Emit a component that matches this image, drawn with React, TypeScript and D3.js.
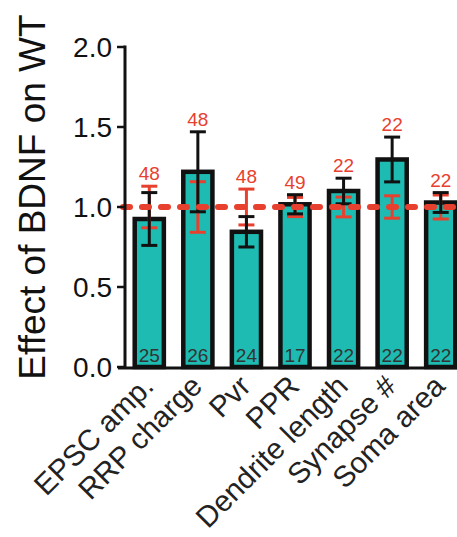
import React, { useEffect, useRef } from 'react';
import * as d3 from 'd3';

// measures, BDNF effect normalised to WT
const categories = ['EPSC amp.', 'RRP charge', 'Pvr', 'PPR', 'Dendrite length', 'Synapse #', 'Soma area'];
const koMean = [0.925, 1.22, 0.845, 1.017, 1.10, 1.297, 1.028];
const koSem = [0.165, 0.25, 0.095, 0.06, 0.08, 0.14, 0.062];
const wtSem = [0.13, 0.158, 0.112, 0.06, 0.062, 0.07, 0.075];
const koN = ['25', '26', '24', '17', '22', '22', '22'];
const wtN = ['48', '48', '48', '49', '22', '22', '22'];
const yTicks = [0, 0.5, 1.0, 1.5, 2.0];

const TEAL = '#1dbbb1';
const RED = '#e8402f';
const FONT = '"Liberation Sans", Arial, Helvetica, sans-serif';

export default function App() {
    const ref = useRef<SVGSVGElement>(null);

    useEffect(() => {
        const svg = d3.select(ref.current);
        svg.selectAll('*').remove();

        const width = 457, height = 537;
        const y = d3.scaleLinear().domain([0, 2]).range([367, 47]);
        const x = d3.scaleBand()
            .domain(categories)
            .range([125, 465])
            .paddingInner(0.4)
            .paddingOuter(0.2);
        const cx = (i: number) => (x(categories[i]) as number) + x.bandwidth() / 2;

        const g = svg.append('g').attr('font-family', FONT);

        // bars
        g.selectAll('rect.bar')
            .data(koMean)
            .enter()
            .append('rect')
            .attr('class', 'bar')
            .attr('x', (_, i) => x(categories[i]) as number)
            .attr('y', d => y(d))
            .attr('width', x.bandwidth())
            .attr('height', d => y(0) - y(d))
            .attr('fill', TEAL)
            .attr('stroke', '#111')
            .attr('stroke-width', 4.5);

        // n inside bars
        g.selectAll('text.nko')
            .data(koN)
            .enter()
            .append('text')
            .attr('x', (_, i) => cx(i))
            .attr('y', 362)
            .attr('text-anchor', 'middle')
            .attr('font-size', 19)
            .attr('fill', '#333')
            .text(d => d);

        const errBar = (lo: number, hi: number, xc: number, color: string) => {
            const eg = g.append('g').attr('stroke', color).attr('stroke-width', 3);
            eg.append('line').attr('x1', xc).attr('x2', xc).attr('y1', y(lo)).attr('y2', y(hi));
            eg.append('line').attr('x1', xc - 8).attr('x2', xc + 8).attr('y1', y(lo)).attr('y2', y(lo));
            eg.append('line').attr('x1', xc - 8).attr('x2', xc + 8).attr('y1', y(hi)).attr('y2', y(hi));
        };

        // WT error around 1.0
        wtSem.forEach((s, i) => errBar(1 - s, 1 + s, cx(i), RED));
        // BDNF error bars
        koMean.forEach((m, i) => errBar(m - koSem[i], m + koSem[i], cx(i), '#111'));

        // WT reference line
        g.append('line')
            .attr('x1', 123).attr('x2', width)
            .attr('y1', y(1)).attr('y2', y(1))
            .attr('stroke', RED)
            .attr('stroke-width', 6)
            .attr('stroke-linecap', 'round')
            .attr('stroke-dasharray', '7 12');

        // WT n above
        g.selectAll('text.nwt')
            .data(wtN)
            .enter()
            .append('text')
            .attr('x', (_, i) => cx(i))
            .attr('y', (_, i) => Math.min(y(1 + wtSem[i]), y(koMean[i] + koSem[i])) - 6)
            .attr('text-anchor', 'middle')
            .attr('font-size', 19)
            .attr('fill', RED)
            .text(d => d);

        // y axis
        const ya = g.append('g');
        ya.append('line')
            .attr('x1', 125).attr('x2', 125)
            .attr('y1', y(2) - 1.5).attr('y2', y(0) + 1.5)
            .attr('stroke', '#111').attr('stroke-width', 3);
        ya.selectAll('line.tick')
            .data(yTicks)
            .enter()
            .append('line')
            .attr('x1', 117).attr('x2', 125)
            .attr('y1', d => y(d)).attr('y2', d => y(d))
            .attr('stroke', '#111').attr('stroke-width', 2.5);
        ya.selectAll('text')
            .data(yTicks)
            .enter()
            .append('text')
            .attr('x', 112)
            .attr('y', d => y(d))
            .attr('dy', '0.36em')
            .attr('text-anchor', 'end')
            .attr('font-size', 28)
            .attr('fill', '#111')
            .text(d => d3.format('.1f')(d));

        // x axis
        g.append('line')
            .attr('x1', 118).attr('x2', width)
            .attr('y1', y(0) + 1).attr('y2', y(0) + 1)
            .attr('stroke', '#111').attr('stroke-width', 3);
        g.selectAll('text.xl')
            .data(categories)
            .enter()
            .append('text')
            .attr('transform', (_, i) => `translate(${cx(i) + 6},388) rotate(-45)`)
            .attr('text-anchor', 'end')
            .attr('font-size', 29.5)
            .attr('fill', '#222')
            .text(d => d);

        // y title
        g.append('text')
            .attr('transform', 'translate(45,197) rotate(-90)')
            .attr('text-anchor', 'middle')
            .attr('font-size', 37)
            .attr('fill', '#111')
            .text('Effect of BDNF on WT');

        svg.attr('width', width).attr('height', height);
    }, []);

    return (
        <svg ref={ref} width={457} height={537}
             style={{ position: 'absolute', left: 0, top: 0, background: '#fff' }} />
    );
}
